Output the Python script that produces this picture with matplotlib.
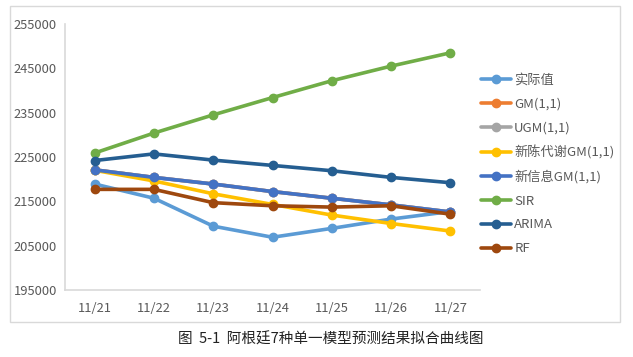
import matplotlib.pyplot as plt
from matplotlib.patches import Rectangle

plt.rcParams['font.family'] = ['Noto Sans CJK SC', 'DejaVu Sans']

dates = ['11/21', '11/22', '11/23', '11/24', '11/25', '11/26', '11/27']
actual = [218900, 215700, 209400, 206900, 208900, 211000, 212700]
gm = [222100, 220400, 218900, 217200, 215700, 214200, 212600]
ugm = [222100, 220400, 218900, 217200, 215700, 214200, 212600]
metabolic_gm = [222000, 219600, 216700, 214300, 211900, 210000, 208300]
newinfo_gm = [222100, 220400, 218900, 217200, 215700, 214200, 212600]
sir = [225900, 230400, 234500, 238400, 242200, 245500, 248500]
arima = [224200, 225700, 224300, 223100, 221900, 220400, 219200]
rf = [217700, 217700, 214700, 214000, 213700, 214000, 212100]

series = [
    ('实际值', actual, '#5B9BD5'),
    ('GM(1,1)', gm, '#ED7D31'),
    ('UGM(1,1)', ugm, '#A5A5A5'),
    ('新陈代谢GM(1,1)', metabolic_gm, '#FFC000'),
    ('新信息GM(1,1)', newinfo_gm, '#4472C4'),
    ('SIR', sir, '#70AD47'),
    ('ARIMA', arima, '#255E91'),
    ('RF', rf, '#9E480E'),
]

fig = plt.figure(figsize=(6.33, 3.57), dpi=100)
ax = fig.add_axes([65/633, 1-290/357, 415/633, 266/357])

x = range(len(dates))
for name, vals, col in series:
    ax.plot(x, vals, color=col, lw=2.6, marker='o', ms=6, label=name,
            solid_capstyle='round')

ax.set_xlim(-0.5, len(dates) - 0.5)
ax.set_ylim(195000, 255000)
ax.set_yticks(range(195000, 255001, 10000))
ax.set_xticks(list(x))
ax.set_xticklabels(dates)
ax.tick_params(length=0, colors='#595959', labelsize=9.3)
ax.tick_params(axis='x', pad=9)
ax.tick_params(axis='y', pad=37)
for lab in ax.get_yticklabels():
    lab.set_horizontalalignment('left')
for s in ['top', 'right']:
    ax.spines[s].set_visible(False)
for s in ['left', 'bottom']:
    ax.spines[s].set_color('#D9D9D9')
    ax.spines[s].set_linewidth(1.2)

ax.legend(loc='center left', bbox_to_anchor=(474/633, 1-164.5/357),
          bbox_transform=fig.transFigure, frameon=False, fontsize=9.5,
          labelspacing=0.82, handlelength=2.3, handletextpad=0.25,
          borderpad=0, labelcolor='#595959')

fig.patches.append(Rectangle((10/633, 1-322/357), 610/633, 316/357,
                             transform=fig.transFigure, fill=False,
                             edgecolor='#D9D9D9', lw=1))

fig.text(331/633, 1-340/357, '图  5-1  阿根廷7种单一模型预测结果拟合曲线图',
         ha='center', va='center', fontsize=10.5, color='#222222')

fig.savefig('out.png', dpi=100)
